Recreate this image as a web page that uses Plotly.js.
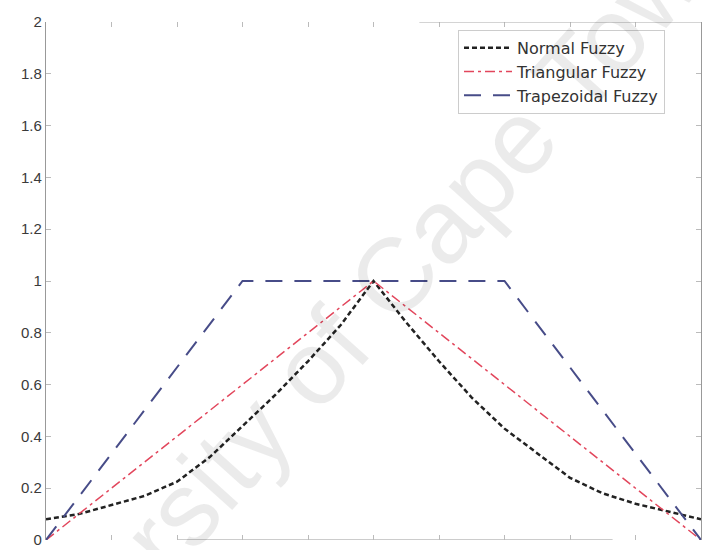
<!DOCTYPE html>
<html>
<head>
<meta charset="utf-8">
<script src="https://cdn.plot.ly/plotly-3.0.1.min.js"></script>
<style>html,body{margin:0;padding:0;background:#fff;}#chart{width:703px;height:550px;}</style>
</head>
<body>
<div id="chart"></div>
<script>
// Data
const seriesNames = ["Normal Fuzzy", "Triangular Fuzzy", "Trapezoidal Fuzzy"];
const xNormal = [0, 0.5, 1, 1.5, 2, 2.5, 3, 3.5, 4, 4.5, 5, 5.5, 6, 6.5, 7, 7.5, 8, 8.5, 9, 9.5, 10];
const yNormal = [0.08, 0.10, 0.135, 0.17, 0.225, 0.32, 0.44, 0.56, 0.69, 0.83, 1.0, 0.84, 0.69, 0.55, 0.43, 0.335, 0.24, 0.18, 0.14, 0.11, 0.08];
const xTriangular = [0, 5, 10];
const yTriangular = [0, 1, 0];
const xTrapezoidal = [0, 3, 7, 10];
const yTrapezoidal = [0, 1, 1, 0];
const watermark = "University of Cape Town";

const traces = [
  {x: xNormal, y: yNormal, name: seriesNames[0], mode: "lines",
   line: {color: "#222222", width: 2.5, dash: "5px,3px"}},
  {x: xTriangular, y: yTriangular, name: seriesNames[1], mode: "lines",
   line: {color: "#e2465c", width: 1.5, dash: "10px,4px,3px,4px"}},
  {x: xTrapezoidal, y: yTrapezoidal, name: seriesNames[2], mode: "lines",
   line: {color: "#474c88", width: 2, dash: "17px,12px"}}
];

const layout = {
  width: 703, height: 550,
  margin: {l: 46, r: 2, t: 22, b: 10},
  paper_bgcolor: "#ffffff", plot_bgcolor: "#ffffff",
  showlegend: true,
  font: {family: "Liberation Sans, Arial, sans-serif", color: "#444"},
  xaxis: {range: [0, 10], dtick: 1, ticks: "inside", ticklen: 5, tickcolor: "#bbbbbb",
          showticklabels: false, showgrid: false, zeroline: false, showline: false, mirror: "ticks"},
  yaxis: {range: [0, 2], dtick: 0.2, ticks: "inside", ticklen: 5, tickcolor: "#bbbbbb",
          showgrid: false, zeroline: false, showline: true, linecolor: "#999999", linewidth: 1.2,
          mirror: "ticks", tickfont: {size: 15, color: "#3a3a3a"}},
  legend: {x: 0.629, y: 0.985, xanchor: "left", yanchor: "top", bgcolor: "#ffffff",
           bordercolor: "#cccccc", borderwidth: 1, itemwidth: 48,
           font: {size: 16, color: "#333", family: "DejaVu Sans, sans-serif"}},
  shapes: [
    {type: "line", xref: "x", yref: "y", x0: 2, x1: 8.65, y0: 0, y1: 0,
     line: {color: "#bbbbbb", width: 1.5}},
    {type: "line", xref: "x", yref: "y", x0: 5.7, x1: 10, y0: 2, y1: 2,
     line: {color: "#aaaaaa", width: 1.2}}
  ],
  annotations: [
    {text: watermark, xref: "paper", yref: "paper", x: (340 - 46) / 655, y: (540 - 335) / 518,
     showarrow: false, textangle: -48, font: {size: 105, color: "rgba(0,0,0,0.08)", family: "Liberation Sans, Arial, sans-serif"}}
  ]
};

Plotly.newPlot("chart", traces, layout, {displayModeBar: false, staticPlot: true});
</script>
</body>
</html>
